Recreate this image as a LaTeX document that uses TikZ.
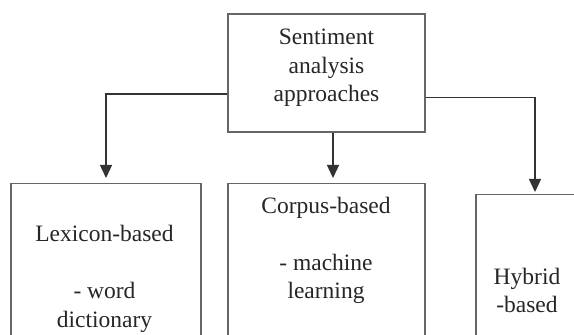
\documentclass[tikz,border=0pt]{standalone}
\usepackage{fontspec}
\setmainfont{Liberation Serif}
\usetikzlibrary{arrows.meta,positioning}

\tikzset{
  box/.style={draw=black!60, line width=1.4pt, rectangle, inner sep=0pt},
  boxtext/.style={align=center, text=black!85, font=\fontsize{23.5}{28.5}\selectfont},
  link/.style={draw=black!80, line width=1.3pt, -{Triangle[length=13pt,width=12pt]}, shorten >=5pt}
}

\begin{document}
\begin{tikzpicture}[x=1pt,y=1pt]
  \useasboundingbox (0,0) rectangle (574,335);
  % Root
  \node[box, minimum width=197pt, minimum height=118pt] (root) at (326.5,262) {};
  \node[boxtext] (roottxt) at (326.5,267) {Sentiment\\analysis\\approaches};
  % Approaches
  \node[box, minimum width=190pt, minimum height=220pt, anchor=north] (lex) at (106,152) {};
  \node[boxtext] (lextxt) at (104.5,56) {Lexicon-based\\[28.5pt]- word\\dictionary};
  \node[box, minimum width=197pt, minimum height=220pt, anchor=north] (corp) at (326.5,152) {};
  \node[boxtext] (corptxt) at (326,84.5) {Corpus-based\\[28.5pt]- machine\\learning};
  \node[box, minimum width=118pt, minimum height=220pt, anchor=north] (hyb) at (535,141) {};
  \node[boxtext] (hybtxt) at (527,44.5) {Hybrid\\-based};
  % Arrows
  \draw[link] ([yshift=-21pt]root.west) -| (lex.north);
  \draw[link] ([xshift=6.5pt]root.south) -- ([xshift=6.5pt]corp.north);
  \draw[link, shorten >=2pt] ([yshift=-24.5pt]root.east) -| (hyb.north);
\end{tikzpicture}
\end{document}
